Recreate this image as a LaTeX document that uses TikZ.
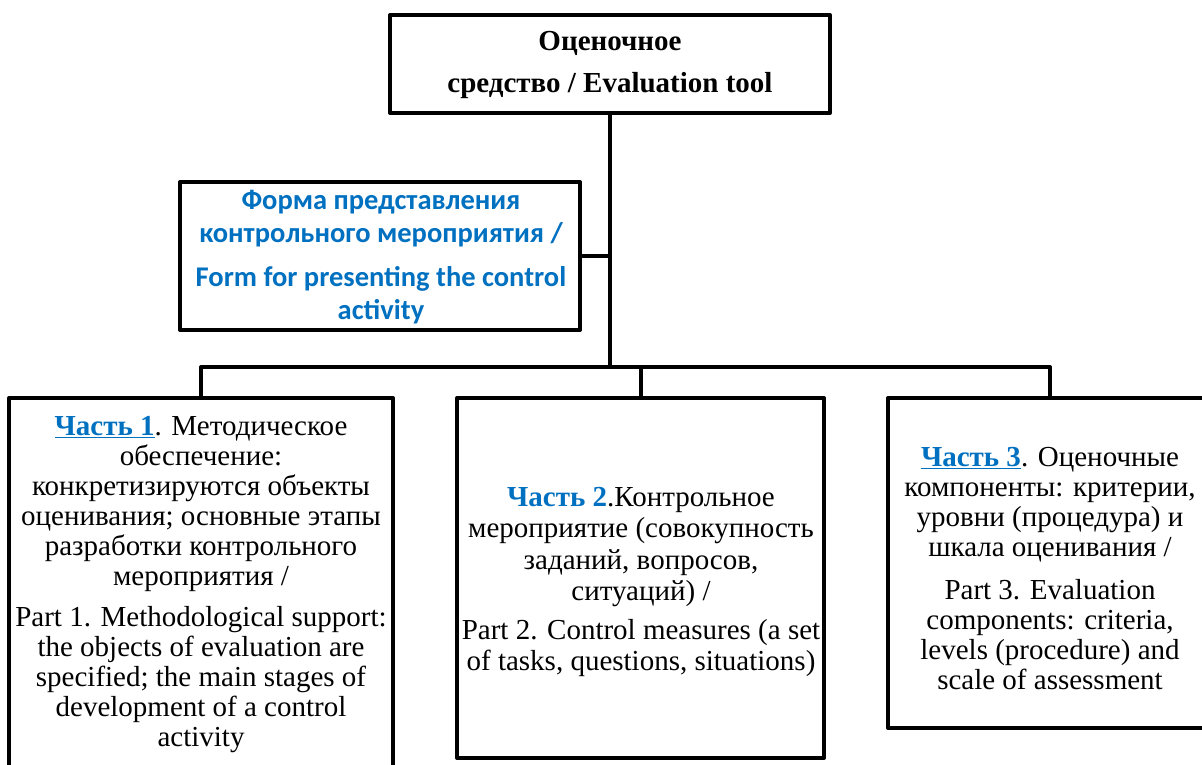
\documentclass[tikz,border=0pt]{standalone}
\usepackage{fontspec}
\setmainfont{Liberation Serif}
\newfontfamily\calibrifont{Carlito}
\definecolor{wblue}{HTML}{0070C0}
\newcommand{\partlbl}[1]{\textcolor{wblue}{\textbf{#1}}}
\newcommand{\partlblu}[1]{\textcolor{wblue}{\underline{\textbf{#1}}}}
\tikzset{
  box/.style={draw=black, line width=4pt, line join=round, fill=white, inner sep=0pt, outer sep=0pt},
  conn/.style={draw=black, line width=4pt, line join=round},
  bodytext/.style={align=center, inner sep=0pt, font={\fontsize{29}{30}\selectfont}},
  formtext/.style={align=center, inner sep=0pt, text=wblue, font={\calibrifont\bfseries\fontsize{28.5}{32.5}\selectfont}},
  toptext/.style={align=center, inner sep=0pt, font={\bfseries\fontsize{29}{42}\selectfont}}
}
\begin{document}
\begin{tikzpicture}[x=1pt, y=-1pt]
\useasboundingbox (0,0) rectangle (1202,765);
\clip (0,0) rectangle (1202,765);
\fill[white] (0,0) rectangle (1202,765);

% boxes
\node[box, minimum width=440pt, minimum height=98pt] (top) at (610,64) {};
\node[box, minimum width=400pt, minimum height=148pt] (form) at (380,256) {};
\node[box, minimum width=384pt, minimum height=402pt] (p1) at (201,599) {};
\node[box, minimum width=367pt, minimum height=360pt] (p2) at (640.5,578) {};
\node[box, minimum width=332pt, minimum height=330pt] (p3) at (1054,563) {};

% connectors
\coordinate (b3) at (1050,367);
\draw[conn] (top.south) -- (top.south |- b3);
\draw[conn] (form.east) -- (form.east -| top.south);
\draw[conn] (p1.north) |- (b3) -- (b3 |- p3.north);
\draw[conn] (p2.north) -- (p2.north |- b3);

% texts
\node[toptext] (ttop) at (610,65) {Оценочное\\средство / Evaluation tool};
\node[formtext] (tform) at (381,257) {Форма представления\\контрольного мероприятия /\\[12pt]Form for presenting the control\\activity};
\node[bodytext] (tp1) at (201,585) {\partlblu{Часть 1}. Методическое\\обеспечение:\\конкретизируются объекты\\оценивания; основные этапы\\разработки контрольного\\мероприятия /\\[11pt]Part 1. Methodological support:\\the objects of evaluation are\\specified; the main stages of\\development of a control\\activity};
\node[bodytext, font={\fontsize{29}{31.5}\selectfont}] (tp2) at (641,582) {\partlbl{Часть 2}.Контрольное\\мероприятие (совокупность\\заданий, вопросов,\\ситуаций) /\\[7pt]Part 2. Control measures (a set\\of tasks, questions, situations)};
\node[bodytext] (tp3) at (1050,568.5) {\partlblu{Часть 3}. Оценочные\\компоненты: критерии,\\уровни (процедура) и\\шкала оценивания /\\[13pt]Part 3. Evaluation\\components: criteria,\\levels (procedure) and\\scale of assessment};
\end{tikzpicture}
\end{document}
